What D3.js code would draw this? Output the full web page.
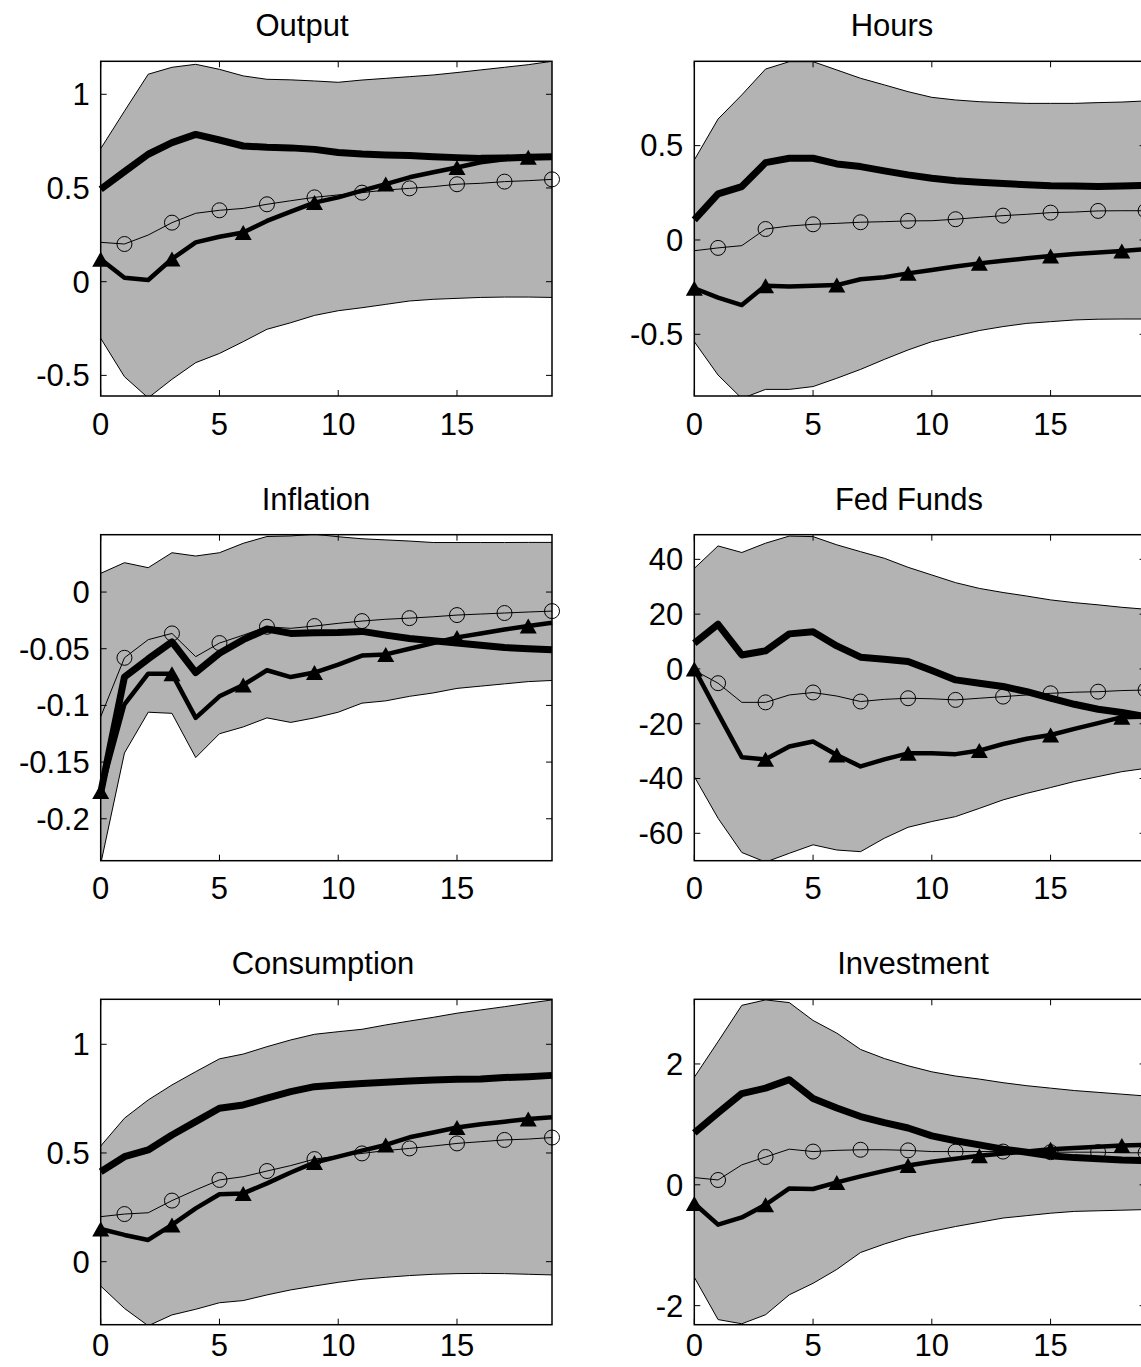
<!DOCTYPE html>
<html>
<head>
<meta charset="utf-8">
<script src="https://cdn.jsdelivr.net/npm/d3@7"></script>
<style>
  body { margin: 0; background: #fff; }
  svg { display: block; }
  text { font-family: "Liberation Sans", Arial, sans-serif; fill: #000; }
</style>
</head>
<body>
<svg id="chart" width="1141" height="1367"></svg>
<script>
// Impulse-response horizons (quarters)
const horizons = [0, 1, 2, 3, 4, 5, 6, 7, 8, 9, 10, 11, 12, 13, 14, 15, 16, 17, 18, 19];
const xTicks = [0, 5, 10, 15];

// ---- Output ----
const outputBandHi = [0.71, 0.91, 1.107, 1.144, 1.16, 1.133, 1.098, 1.08, 1.077, 1.071, 1.064, 1.076, 1.085, 1.094, 1.103, 1.116, 1.13, 1.144, 1.158, 1.176];
const outputBandLo = [-0.302, -0.507, -0.62, -0.521, -0.432, -0.383, -0.32, -0.254, -0.219, -0.18, -0.155, -0.139, -0.121, -0.103, -0.094, -0.089, -0.084, -0.082, -0.082, -0.084];
const outputMedian = [0.493, 0.587, 0.68, 0.742, 0.786, 0.756, 0.724, 0.717, 0.714, 0.706, 0.689, 0.681, 0.676, 0.673, 0.667, 0.662, 0.658, 0.66, 0.664, 0.667];
const outputModel1 = [0.12, 0.021, 0.009, 0.121, 0.21, 0.24, 0.262, 0.324, 0.374, 0.422, 0.45, 0.486, 0.521, 0.557, 0.584, 0.609, 0.637, 0.653, 0.664, 0.667];
const outputModel2 = [0.21, 0.201, 0.249, 0.315, 0.365, 0.381, 0.391, 0.413, 0.432, 0.45, 0.463, 0.475, 0.489, 0.498, 0.507, 0.52, 0.525, 0.534, 0.539, 0.546];
const outputTicks = [-0.5, 0, 0.5, 1];

// ---- Hours ----
const hoursBandHi = [0.424, 0.641, 0.769, 0.906, 0.945, 0.945, 0.901, 0.857, 0.822, 0.786, 0.756, 0.742, 0.733, 0.728, 0.724, 0.724, 0.724, 0.728, 0.731, 0.737];
const hoursBandLo = [-0.539, -0.716, -0.84, -0.792, -0.792, -0.777, -0.733, -0.686, -0.633, -0.583, -0.539, -0.509, -0.48, -0.459, -0.442, -0.433, -0.424, -0.42, -0.419, -0.419];
const hoursMedian = [0.106, 0.244, 0.283, 0.41, 0.433, 0.433, 0.403, 0.389, 0.366, 0.345, 0.327, 0.314, 0.306, 0.299, 0.293, 0.288, 0.286, 0.284, 0.286, 0.29];
const hoursModel1 = [-0.256, -0.306, -0.345, -0.242, -0.247, -0.242, -0.239, -0.208, -0.198, -0.177, -0.159, -0.141, -0.124, -0.11, -0.097, -0.085, -0.074, -0.067, -0.058, -0.049];
const hoursModel2 = [-0.057, -0.042, -0.03, 0.058, 0.074, 0.083, 0.088, 0.094, 0.097, 0.101, 0.102, 0.11, 0.12, 0.129, 0.136, 0.145, 0.148, 0.154, 0.155, 0.155];
const hoursTicks = [-0.5, 0, 0.5];

// ---- Inflation ----
const inflationBandHi = [0.0165, 0.0259, 0.0215, 0.0347, 0.0318, 0.0347, 0.043, 0.049, 0.0495, 0.051, 0.0488, 0.047, 0.046, 0.045, 0.0437, 0.0437, 0.0437, 0.0437, 0.0438, 0.0438];
const inflationBandLo = [-0.24, -0.142, -0.106, -0.107, -0.146, -0.125, -0.119, -0.111, -0.115, -0.111, -0.106, -0.098, -0.096, -0.092, -0.089, -0.085, -0.083, -0.081, -0.079, -0.078];
const inflationMedian = [-0.177, -0.075, -0.059, -0.044, -0.071, -0.054, -0.042, -0.0326, -0.0365, -0.036, -0.0356, -0.0347, -0.038, -0.041, -0.043, -0.045, -0.047, -0.049, -0.05, -0.051];
const inflationModel1 = [-0.176, -0.099, -0.072, -0.072, -0.111, -0.092, -0.082, -0.069, -0.075, -0.071, -0.064, -0.056, -0.055, -0.05, -0.045, -0.04, -0.0365, -0.033, -0.03, -0.027];
const inflationModel2 = [-0.11, -0.058, -0.042, -0.0365, -0.057, -0.045, -0.038, -0.0306, -0.032, -0.03, -0.0276, -0.0256, -0.024, -0.023, -0.0218, -0.0203, -0.0194, -0.0185, -0.0176, -0.0168];
const inflationTicks = [-0.2, -0.15, -0.1, -0.05, 0];

// ---- Fed Funds ----
const fedBandHi = [36.7, 44.9, 42.5, 45.9, 48.5, 48.3, 45.3, 42.8, 40.4, 37.1, 34.3, 31.5, 29.4, 27.9, 26.6, 25.2, 24.2, 23.4, 22.5, 21.8];
const fedBandLo = [-39.3, -54.5, -67, -70.5, -67.3, -64.2, -66.1, -66.7, -61.8, -57.8, -55.7, -53.9, -50.9, -47.8, -45.4, -43.3, -41.1, -39.3, -37.5, -36.3];
const fedMedian = [9.4, 16.3, 5.1, 6.6, 12.8, 13.6, 8.4, 4.3, 3.5, 2.7, -0.6, -4.0, -5.2, -6.4, -8.3, -10.7, -12.9, -14.7, -15.9, -17.4];
const fedModel1 = [0, -16.2, -32.2, -33, -28.3, -26.5, -31.4, -35.6, -33, -30.8, -30.8, -31.1, -29.8, -27.4, -25.5, -24.1, -21.9, -19.8, -17.6, -17.4];
const fedModel2 = [-0.5, -5.2, -12.2, -12.2, -9.5, -8.6, -9.9, -11.9, -11.1, -10.7, -10.9, -11.3, -10.7, -10.1, -9.5, -8.9, -8.5, -8.3, -7.9, -7.7];
const fedTicks = [-60, -40, -20, 0, 20, 40];

// ---- Consumption ----
const consBandHi = [0.532, 0.66, 0.744, 0.813, 0.874, 0.933, 0.955, 0.989, 1.02, 1.046, 1.058, 1.069, 1.089, 1.107, 1.124, 1.143, 1.158, 1.173, 1.189, 1.204];
const consBandLo = [-0.112, -0.215, -0.295, -0.245, -0.219, -0.189, -0.179, -0.153, -0.13, -0.112, -0.095, -0.081, -0.072, -0.064, -0.058, -0.055, -0.054, -0.055, -0.058, -0.061];
const consMedian = [0.414, 0.483, 0.514, 0.583, 0.644, 0.706, 0.721, 0.752, 0.782, 0.805, 0.813, 0.82, 0.825, 0.831, 0.836, 0.839, 0.84, 0.847, 0.851, 0.857];
const consModel1 = [0.15, 0.123, 0.1, 0.169, 0.245, 0.31, 0.314, 0.36, 0.41, 0.456, 0.483, 0.511, 0.537, 0.572, 0.594, 0.617, 0.632, 0.644, 0.656, 0.664];
const consModel2 = [0.207, 0.219, 0.225, 0.281, 0.33, 0.376, 0.391, 0.417, 0.442, 0.472, 0.486, 0.498, 0.511, 0.521, 0.532, 0.544, 0.552, 0.56, 0.564, 0.571];
const consTicks = [0, 0.5, 1];

// ---- Investment ----
const invBandHi = [1.78, 2.37, 2.97, 3.06, 3.015, 2.72, 2.51, 2.24, 2.09, 1.97, 1.87, 1.8, 1.75, 1.69, 1.64, 1.6, 1.56, 1.53, 1.5, 1.47];
const invBandLo = [-1.53, -2.23, -2.3, -2.15, -1.82, -1.63, -1.4, -1.12, -0.98, -0.86, -0.77, -0.69, -0.62, -0.55, -0.51, -0.47, -0.44, -0.43, -0.42, -0.41];
const invMedian = [0.86, 1.19, 1.51, 1.6, 1.74, 1.43, 1.27, 1.13, 1.03, 0.94, 0.81, 0.73, 0.66, 0.59, 0.54, 0.48, 0.45, 0.43, 0.41, 0.4];
const invModel1 = [-0.31, -0.66, -0.54, -0.33, -0.06, -0.07, 0.04, 0.14, 0.23, 0.32, 0.38, 0.43, 0.48, 0.52, 0.55, 0.59, 0.61, 0.63, 0.65, 0.66];
const invModel2 = [0.12, 0.08, 0.33, 0.46, 0.59, 0.55, 0.57, 0.58, 0.58, 0.57, 0.55, 0.55, 0.55, 0.55, 0.54, 0.54, 0.54, 0.54, 0.53, 0.53];
const invTicks = [-2, 0, 2];

// Horizons that carry markers for each model line
const triangleSteps = [0, 3, 6, 9, 12, 15, 18];
const circleSteps = [1, 3, 5, 7, 9, 11, 13, 15, 17, 19];

// Panel layout: plot box in pixels, y range, title centre, x-label offset
const panels = [
  { title: "Output",      hi: outputBandHi,    lo: outputBandLo,    med: outputMedian,    m1: outputModel1,    m2: outputModel2,    ticks: outputTicks,    yDomain: [-0.61, 1.176],  left: 100.7, top: 61.3,  bottom: 396,    titleX: 302, xLabelGap: 38.5 },
  { title: "Hours",       hi: hoursBandHi,     lo: hoursBandLo,     med: hoursMedian,     m1: hoursModel1,     m2: hoursModel2,     ticks: hoursTicks,     yDomain: [-0.827, 0.947], left: 694.3, top: 61.3,  bottom: 396,    titleX: 892, xLabelGap: 38.5 },
  { title: "Inflation",   hi: inflationBandHi, lo: inflationBandLo, med: inflationMedian, m1: inflationModel1, m2: inflationModel2, ticks: inflationTicks, yDomain: [-0.237, 0.0506], left: 100.7, top: 534.7, bottom: 860.7,  titleX: 316, xLabelGap: 38.5 },
  { title: "Fed Funds",   hi: fedBandHi,       lo: fedBandLo,       med: fedMedian,       m1: fedModel1,       m2: fedModel2,       ticks: fedTicks,       yDomain: [-70, 49],       left: 694.3, top: 534.7, bottom: 860.7,  titleX: 909, xLabelGap: 38.5 },
  { title: "Consumption", hi: consBandHi,      lo: consBandLo,      med: consMedian,      m1: consModel1,      m2: consModel2,      ticks: consTicks,      yDomain: [-0.29, 1.207],  left: 100.7, top: 999.3, bottom: 1324.7, titleX: 323, xLabelGap: 31 },
  { title: "Investment",  hi: invBandHi,       lo: invBandLo,       med: invMedian,       m1: invModel1,       m2: invModel2,       ticks: invTicks,       yDomain: [-2.315, 3.07],  left: 694.3, top: 999.3, bottom: 1324.7, titleX: 913, xLabelGap: 31 }
];
const plotWidth = 451.3;
const fontSize = 31;
const tickLen = 6;
const fmt = d => String(d);

const svg = d3.select("#chart");

panels.forEach((p, i) => {
  const x = d3.scaleLinear().domain([0, 19]).range([p.left, p.left + plotWidth]);
  const y = d3.scaleLinear().domain(p.yDomain).range([p.bottom, p.top]);
  const g = svg.append("g");

  const clipId = "clip" + i;
  g.append("clipPath").attr("id", clipId)
    .append("rect")
    .attr("x", p.left).attr("y", p.top)
    .attr("width", plotWidth).attr("height", p.bottom - p.top);

  const rows = horizons.map((h, k) => ({ h, hi: p.hi[k], lo: p.lo[k], med: p.med[k], m1: p.m1[k], m2: p.m2[k] }));

  // Confidence band
  const plotArea = g.append("g").attr("clip-path", `url(#${clipId})`);
  plotArea.append("path").datum(rows)
    .attr("d", d3.area().x(d => x(d.h)).y0(d => y(d.lo)).y1(d => y(d.hi)))
    .attr("fill", "#b3b3b3");
  ["hi", "lo"].forEach(key => {
    plotArea.append("path").datum(rows)
      .attr("d", d3.line().x(d => x(d.h)).y(d => y(d[key])))
      .attr("fill", "none").attr("stroke", "#000").attr("stroke-width", 1);
  });

  // Point estimate (thick line)
  g.append("path").datum(rows)
    .attr("d", d3.line().x(d => x(d.h)).y(d => y(d.med)))
    .attr("fill", "none").attr("stroke", "#000")
    .attr("stroke-width", 7).attr("stroke-linejoin", "round");

  // Model line with triangle markers
  g.append("path").datum(rows)
    .attr("d", d3.line().x(d => x(d.h)).y(d => y(d.m1)))
    .attr("fill", "none").attr("stroke", "#000")
    .attr("stroke-width", 4.5).attr("stroke-linejoin", "round");
  const tw = 17, th = 15;
  g.selectAll(".tri").data(rows.filter(d => triangleSteps.includes(d.h)))
    .enter().append("path")
    .attr("transform", d => `translate(${x(d.h)},${y(d.m1)})`)
    .attr("d", `M0,${-th / 2}L${tw / 2},${th / 2}L${-tw / 2},${th / 2}Z`)
    .attr("fill", "#000");

  // Model line with circle markers
  g.append("path").datum(rows)
    .attr("d", d3.line().x(d => x(d.h)).y(d => y(d.m2)))
    .attr("fill", "none").attr("stroke", "#000").attr("stroke-width", 1);
  g.selectAll(".circ").data(rows.filter(d => circleSteps.includes(d.h)))
    .enter().append("circle")
    .attr("cx", d => x(d.h)).attr("cy", d => y(d.m2)).attr("r", 7.5)
    .attr("fill", "none").attr("stroke", "#000").attr("stroke-width", 1);

  // Box with inward ticks on all sides
  const right = p.left + plotWidth;
  const ax = g.append("g").attr("stroke", "#000").attr("stroke-width", 1);
  xTicks.forEach(t => {
    ax.append("line").attr("x1", x(t)).attr("x2", x(t)).attr("y1", p.bottom).attr("y2", p.bottom - tickLen);
    ax.append("line").attr("x1", x(t)).attr("x2", x(t)).attr("y1", p.top).attr("y2", p.top + tickLen);
  });
  p.ticks.forEach(t => {
    ax.append("line").attr("x1", p.left).attr("x2", p.left + tickLen).attr("y1", y(t)).attr("y2", y(t));
    ax.append("line").attr("x1", right).attr("x2", right - tickLen).attr("y1", y(t)).attr("y2", y(t));
  });
  g.append("rect")
    .attr("x", p.left).attr("y", p.top)
    .attr("width", plotWidth).attr("height", p.bottom - p.top)
    .attr("fill", "none").attr("stroke", "#000").attr("stroke-width", 1.5);

  // Tick labels
  g.selectAll(".xl").data(xTicks).enter().append("text")
    .attr("x", d => x(d)).attr("y", p.bottom + p.xLabelGap)
    .attr("text-anchor", "middle").attr("font-size", fontSize)
    .text(fmt);
  g.selectAll(".yl").data(p.ticks).enter().append("text")
    .attr("x", p.left - 11).attr("y", d => y(d)).attr("dy", "0.35em")
    .attr("text-anchor", "end").attr("font-size", fontSize)
    .text(fmt);

  // Title
  g.append("text")
    .attr("x", p.titleX).attr("y", p.top - 25)
    .attr("text-anchor", "middle").attr("font-size", fontSize)
    .text(p.title);
});
</script>
</body>
</html>
